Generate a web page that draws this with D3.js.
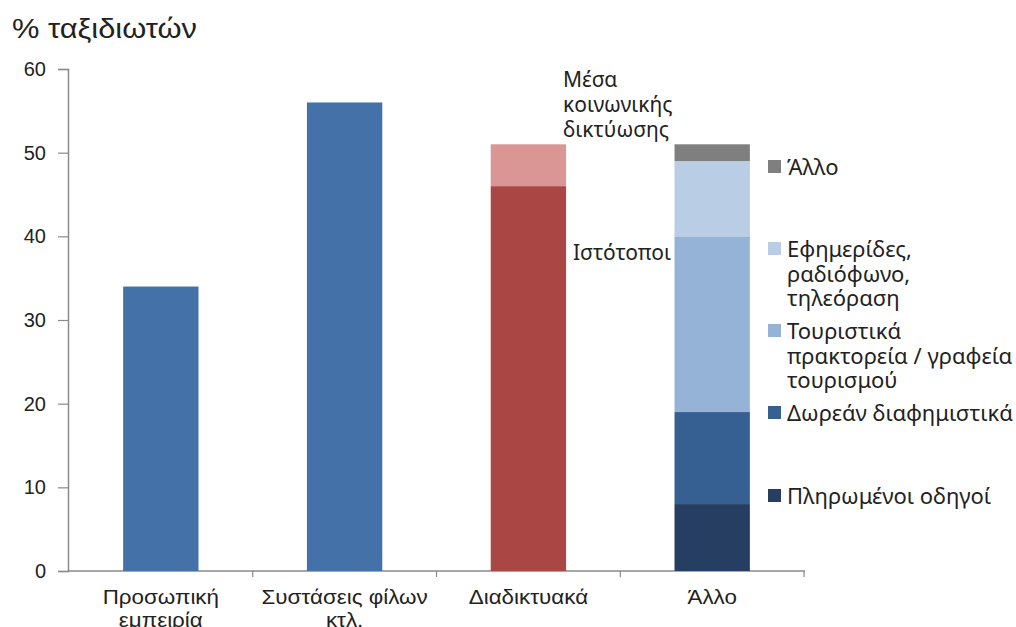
<!DOCTYPE html>
<html>
<head>
<meta charset="utf-8">
<script src="https://cdn.jsdelivr.net/npm/d3@7"></script>
<style>
  body { margin: 0; background: #fff; }
  svg { display: block; }
</style>
</head>
<body>
<div id="app"></div>
<script>
const categories = ["Προσωπική εμπειρία", "Συστάσεις φίλων κτλ.", "Διαδικτυακά", "Άλλο"];
const catLines = [["Προσωπική", "εμπειρία"], ["Συστάσεις φίλων", "κτλ."], ["Διαδικτυακά"], ["Άλλο"]];
const yTicks = [0, 10, 20, 30, 40, 50, 60];

// plain bars
const simpleValues = [34, 56];
// Διαδικτυακά stack
const webParts = ["Ιστότοποι", "Μέσα κοινωνικής δικτύωσης"];
const webValues = [46, 5];
// Άλλο stack, bottom to top
const otherParts = ["Πληρωμένοι οδηγοί", "Δωρεάν διαφημιστικά", "Τουριστικά πρακτορεία / γραφεία τουρισμού", "Εφημερίδες, ραδιόφωνο, τηλεόραση", "Άλλο"];
const otherValues = [8, 11, 21, 9, 2];

const chart = () => {
  const width = 1016;
  const height = 627;
  const marginLeft = 68;
  const marginTop = 69;
  const axisRight = 805;
  const baseY = 571;
  const sans = "Liberation Sans, Arial, sans-serif";
  const annFont = "Noto Sans, Open Sans, sans-serif";

  const svg = d3.create("svg").attr("width", width).attr("height", height);

  const x = d3.scaleBand().domain(categories).range([marginLeft, axisRight]).paddingInner(0.59).paddingOuter(0.3);
  const y = d3.scaleLinear().domain([0, 60]).range([baseY, marginTop]);

  // title
  svg.append("text")
    .attr("x", 12).attr("y", 38)
    .attr("font-family", sans)
    .attr("font-size", 27).attr("fill", "#222")
    .attr("textLength", 185).attr("lengthAdjust", "spacingAndGlyphs")
    .text("% ταξιδιωτών");

  // y axis
  const yAxis = svg.append("g")
    .attr("transform", `translate(${marginLeft},0)`)
    .call(d3.axisLeft(y).tickValues(yTicks).tickSize(10).tickPadding(12));
  yAxis.select(".domain").attr("stroke", "#8a8a8a").attr("stroke-width", 1.5);
  yAxis.selectAll(".tick line").attr("stroke", "#8a8a8a").attr("stroke-width", 1.2);
  yAxis.selectAll("text")
    .attr("font-family", sans)
    .attr("font-size", 20).attr("fill", "#222");

  // x axis line and ticks between bands
  const step = x.step();
  const xg = svg.append("g");
  xg.append("line")
    .attr("x1", marginLeft).attr("x2", axisRight)
    .attr("y1", baseY).attr("y2", baseY)
    .attr("stroke", "#8a8a8a").attr("stroke-width", 1.5);
  const bounds = categories.map((c) => x(c) + x.bandwidth() / 2 + step / 2);
  xg.selectAll(".xt").data(bounds).enter().append("line")
    .attr("x1", (d) => d).attr("x2", (d) => d)
    .attr("y1", baseY).attr("y2", baseY + 6)
    .attr("stroke", "#8a8a8a").attr("stroke-width", 1.2);

  // category labels (slightly stretched like the original)
  categories.forEach((c, i) => {
    const cx = x(c) + x.bandwidth() / 2;
    const t = svg.append("text")
      .attr("transform", `translate(${cx},604) scale(1.12,1)`)
      .attr("text-anchor", "middle")
      .attr("font-family", sans)
      .attr("font-size", 20).attr("fill", "#222");
    catLines[i].forEach((ln, j) => {
      t.append("tspan").attr("x", 0).attr("y", j * 23).text(ln);
    });
  });

  // simple bars
  svg.selectAll(".bar").data(simpleValues).enter().append("rect")
    .attr("x", (d, i) => x(categories[i]))
    .attr("y", (d) => y(d))
    .attr("width", x.bandwidth())
    .attr("height", (d) => y(0) - y(d))
    .attr("fill", "#4472a8");

  // stacks
  const drawStack = (cat, vals, colors) => {
    let acc = 0;
    vals.forEach((v, i) => {
      svg.append("rect")
        .attr("x", x(cat))
        .attr("y", y(acc + v))
        .attr("width", x.bandwidth())
        .attr("height", y(acc) - y(acc + v))
        .attr("fill", colors[i]);
      acc += v;
    });
  };
  drawStack(categories[2], webValues, ["#aa4644", "#da9694"]);
  const otherColors = ["#253e62", "#376092", "#95b3d7", "#b9cde5", "#7f7f7f"];
  drawStack(categories[3], otherValues, otherColors);

  // annotations for Διαδικτυακά
  const ann = svg.append("text")
    .attr("font-family", annFont).attr("font-size", 21).attr("fill", "#222");
  [["Μέσα", 87], ["κοινωνικής", 112], ["δικτύωσης", 137]].forEach(([t, yy]) => {
    ann.append("tspan").attr("x", 563).attr("y", yy).text(t);
  });
  svg.append("text")
    .attr("x", 573).attr("y", 260)
    .attr("font-family", annFont).attr("font-size", 21).attr("fill", "#222")
    .text("Ιστότοποι");

  // legend
  const legend = [
    { color: otherColors[4], lines: ["Άλλο"], y: 175 },
    { color: otherColors[3], lines: ["Εφημερίδες,", "ραδιόφωνο,", "τηλεόραση"], y: 257 },
    { color: otherColors[2], lines: ["Τουριστικά", "πρακτορεία / γραφεία", "τουρισμού"], y: 339 },
    { color: otherColors[1], lines: ["Δωρεάν διαφημιστικά"], y: 421 },
    { color: otherColors[0], lines: ["Πληρωμένοι οδηγοί"], y: 504 },
  ];
  legend.forEach((l) => {
    svg.append("rect")
      .attr("x", 768).attr("y", l.y - 15).attr("width", 13).attr("height", 13)
      .attr("fill", l.color);
    const t = svg.append("text")
      .attr("font-family", annFont).attr("font-size", 22).attr("fill", "#222");
    l.lines.forEach((ln, j) => {
      t.append("tspan").attr("x", 787).attr("y", l.y + j * 24.5).text(ln);
    });
  });

  return svg.node();
};

d3.select("#app").append(chart);
</script>
</body>
</html>
